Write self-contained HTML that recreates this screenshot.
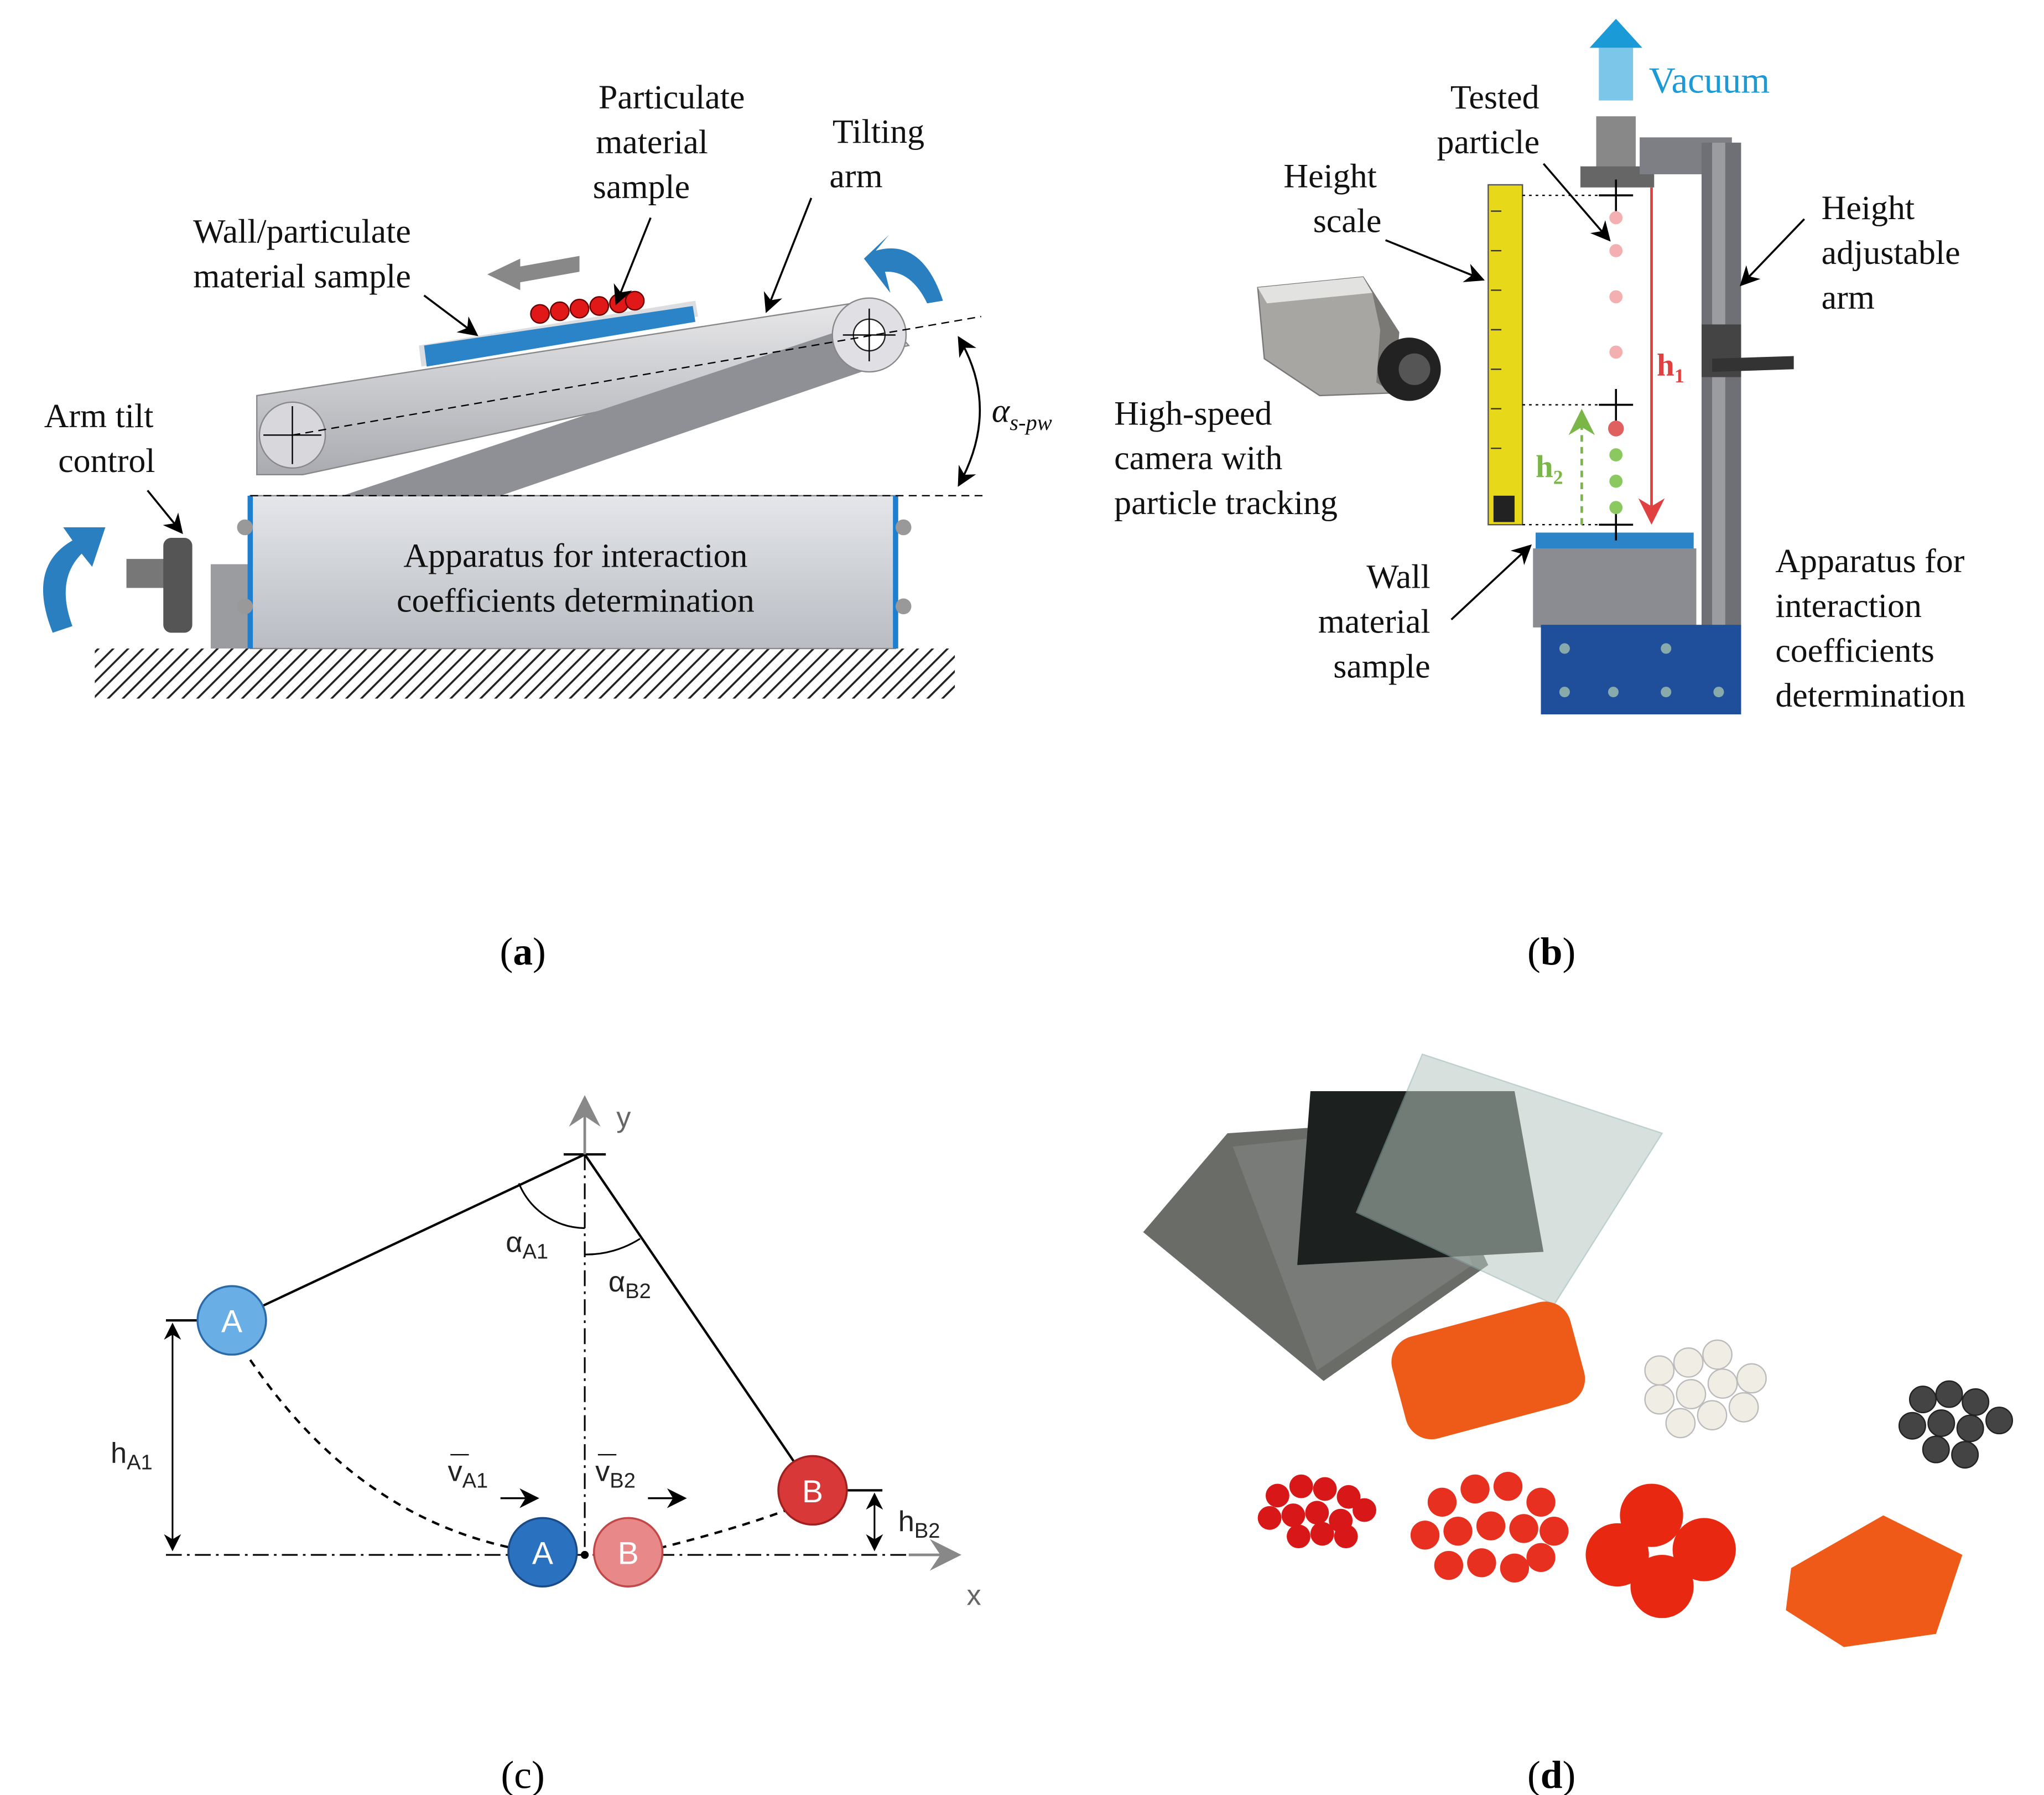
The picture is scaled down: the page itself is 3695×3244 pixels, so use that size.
<!DOCTYPE html>
<html><head><meta charset="utf-8"><style>html,body{margin:0;padding:0;background:#fff}svg{display:block}</style></head>
<body>
<svg width="3695" height="3244" viewBox="0 0 1552 1362" xmlns="http://www.w3.org/2000/svg" font-family="Liberation Serif, serif">
<defs>
<pattern id="hatch" width="8" height="8" patternUnits="userSpaceOnUse" patternTransform="rotate(45)"><rect width="8" height="8" fill="#fff"/><line x1="0" y1="0" x2="0" y2="8" stroke="#222" stroke-width="3"/></pattern>
<linearGradient id="gbox" x1="0" y1="0" x2="0" y2="1"><stop offset="0" stop-color="#e4e6ea"/><stop offset="1" stop-color="#b9bcc2"/></linearGradient>
<linearGradient id="garm" x1="0" y1="0" x2="0" y2="1"><stop offset="0" stop-color="#e8e8ea"/><stop offset="1" stop-color="#a9abb0"/></linearGradient>
<marker id="ak" markerWidth="10" markerHeight="10" refX="9" refY="5" orient="auto-start-reverse"><path d="M0,0 L10,5 L0,10 L3,5z" fill="#000"/></marker>
<marker id="ar" markerWidth="10" markerHeight="10" refX="9" refY="5" orient="auto"><path d="M0,0 L10,5 L0,10 L3,5z" fill="#e04040"/></marker>
<marker id="ag" markerWidth="10" markerHeight="10" refX="9" refY="5" orient="auto"><path d="M0,0 L10,5 L0,10 L3,5z" fill="#7ab648"/></marker>
<marker id="agr" markerWidth="12" markerHeight="12" refX="10" refY="6" orient="auto"><path d="M0,0 L12,6 L0,12 L4,6z" fill="#888"/></marker>
</defs>

<!-- (a) -->
<rect x="72" y="492" width="653" height="38" fill="url(#hatch)"/>
<rect x="160" y="428" width="32" height="64" fill="#9a9ca0"/>
<rect x="96" y="424" width="30" height="22" fill="#777"/>
<rect x="124" y="408" width="22" height="72" rx="6" fill="#555"/>
<path d="M40,480 Q20,430 55,410 L48,400 L80,400 L70,430 L62,420 Q42,440 55,475z" fill="#2a7fc1"/>
<polygon points="195,300 660,228 690,262 230,360 195,360" fill="url(#garm)" stroke="#888"/>
<polygon points="260,376 640,250 660,280 380,376" fill="#8e9096"/>
<circle cx="222" cy="330" r="25" fill="#d8d8dc" stroke="#888"/>
<circle cx="660" cy="254" r="28" fill="#e0e0e4" stroke="#888"/>
<circle cx="660" cy="254" r="12" fill="#fff" stroke="#222"/>
<line x1="640" y1="254" x2="680" y2="254" stroke="#000"/><line x1="660" y1="234" x2="660" y2="274" stroke="#000"/>
<line x1="200" y1="330" x2="244" y2="330" stroke="#000"/><line x1="222" y1="308" x2="222" y2="352" stroke="#000"/>
<polygon points="318,262 528,228 530,240 320,278" fill="#dcdde0"/>
<polygon points="322,262 526,232 528,244 324,278" fill="#2c84c8"/>
<g fill="#e01818" stroke="#600" stroke-width="1"><circle cx="410" cy="238" r="7"/><circle cx="425" cy="236" r="7"/><circle cx="440" cy="234" r="7"/><circle cx="455" cy="232" r="7"/><circle cx="470" cy="230" r="7"/><circle cx="482" cy="228" r="7"/></g>
<polygon points="370,208 395,196 395,202 440,194 440,206 395,214 395,220" fill="#888"/>
<rect x="190" y="376" width="490" height="116" fill="url(#gbox)" stroke="#888"/>
<rect x="188" y="376" width="4" height="116" fill="#1e7fd0"/><rect x="678" y="376" width="4" height="116" fill="#1e7fd0"/>
<circle cx="186" cy="400" r="6" fill="#999"/><circle cx="186" cy="460" r="6" fill="#999"/><circle cx="686" cy="400" r="6" fill="#999"/><circle cx="686" cy="460" r="6" fill="#999"/>
<line x1="222" y1="330" x2="745" y2="240" stroke="#000" stroke-dasharray="6,4"/>
<line x1="190" y1="376" x2="748" y2="376" stroke="#000" stroke-dasharray="6,4"/>
<path d="M728,256 Q760,310 728,368" fill="none" stroke="#000" stroke-width="1.5" marker-start="url(#ak)" marker-end="url(#ak)"/>
<path d="M665,190 Q700,180 716,228 L704,230 Q692,205 672,206 L676,222 L656,196 L675,178z" fill="#2a7fc1"/>
<g font-size="26" fill="#111">
<text x="437" y="430" text-anchor="middle">Apparatus  for interaction</text>
<text x="437" y="464" text-anchor="middle">coefficients determination</text>
<text x="510" y="82" text-anchor="middle">Particulate</text><text x="495" y="116" text-anchor="middle">material</text><text x="487" y="150" text-anchor="middle">sample</text>
<text x="667" y="108" text-anchor="middle">Tilting</text><text x="650" y="142" text-anchor="middle">arm</text>
<text x="312" y="184" text-anchor="end">Wall/particulate</text><text x="312" y="218" text-anchor="end">material sample</text>
<text x="75" y="324" text-anchor="middle">Arm tilt</text><text x="81" y="358" text-anchor="middle">control</text>
<text x="753" y="320" font-style="italic">α<tspan font-size="17" dy="6">s-pw</tspan></text>
</g>
<g stroke="#000" stroke-width="1.5" fill="none" marker-end="url(#ak)">
<line x1="322" y1="224" x2="362" y2="254"/><line x1="494" y1="165" x2="468" y2="230"/><line x1="616" y1="150" x2="582" y2="236"/><line x1="112" y1="372" x2="138" y2="404"/>
</g>

<!-- (b) -->
<g fill="#1a9ad6"><polygon points="1227,14 1247,36 1207,36"/><rect x="1214" y="36" width="26" height="40" fill="#7cc6ea"/></g>
<text x="1252" y="70" font-size="28" fill="#1a9ad6">Vacuum</text>
<rect x="1212" y="88" width="30" height="40" fill="#888"/>
<rect x="1200" y="126" width="56" height="16" fill="#666"/>
<rect x="1245" y="104" width="70" height="28" fill="#7d7f85"/>
<rect x="1292" y="108" width="30" height="432" fill="#6e7076"/>
<rect x="1300" y="108" width="10" height="432" fill="#9a9ca0"/>
<rect x="1292" y="246" width="30" height="40" fill="#444"/>
<polygon points="1300,272 1362,270 1362,280 1300,282" fill="#333"/>
<rect x="1130" y="140" width="26" height="258" fill="#e8d81a" stroke="#555"/>
<g stroke="#333" stroke-width="1"><line x1="1132" y1="160" x2="1140" y2="160"/><line x1="1132" y1="190" x2="1140" y2="190"/><line x1="1132" y1="220" x2="1140" y2="220"/><line x1="1132" y1="250" x2="1140" y2="250"/><line x1="1132" y1="280" x2="1140" y2="280"/><line x1="1132" y1="310" x2="1140" y2="310"/><line x1="1132" y1="340" x2="1140" y2="340"/></g>
<rect x="1134" y="376" width="16" height="20" fill="#222"/>
<rect x="1166" y="404" width="120" height="14" fill="#2c84c8"/>
<rect x="1164" y="416" width="124" height="60" fill="#8a8c92"/>
<rect x="1170" y="474" width="152" height="68" fill="#1f4f9a"/>
<g fill="#8aa"><circle cx="1188" cy="492" r="4"/><circle cx="1265" cy="492" r="4"/><circle cx="1188" cy="525" r="4"/><circle cx="1225" cy="525" r="4"/><circle cx="1265" cy="525" r="4"/><circle cx="1305" cy="525" r="4"/></g>
<g stroke="#000" stroke-dasharray="2,3"><line x1="1156" y1="148" x2="1240" y2="148"/><line x1="1156" y1="307" x2="1240" y2="307"/><line x1="1156" y1="398" x2="1240" y2="398"/></g>
<g stroke="#000" stroke-width="1.5"><line x1="1214" y1="148" x2="1240" y2="148"/><line x1="1227" y1="136" x2="1227" y2="160"/><line x1="1214" y1="307" x2="1240" y2="307"/><line x1="1227" y1="295" x2="1227" y2="319"/><line x1="1214" y1="398" x2="1240" y2="398"/><line x1="1227" y1="386" x2="1227" y2="410"/></g>
<g fill="#f4b0b0"><circle cx="1227" cy="165" r="5"/><circle cx="1227" cy="190" r="5"/><circle cx="1227" cy="225" r="5"/><circle cx="1227" cy="267" r="5"/></g>
<g fill="#e06060"><circle cx="1227" cy="325" r="6"/></g>
<g fill="#8cc860"><circle cx="1227" cy="345" r="5"/><circle cx="1227" cy="365" r="5"/><circle cx="1227" cy="385" r="5"/></g>
<line x1="1254" y1="142" x2="1254" y2="396" stroke="#e04040" stroke-width="2" marker-end="url(#ar)"/>
<line x1="1201" y1="398" x2="1201" y2="312" stroke="#7ab648" stroke-width="2" stroke-dasharray="5,4" marker-end="url(#ag)"/>
<text x="1258" y="285" font-size="24" font-weight="bold" fill="#e04040">h<tspan font-size="15" dy="5">1</tspan></text>
<text x="1166" y="362" font-size="24" font-weight="bold" fill="#7ab648">h<tspan font-size="15" dy="5">2</tspan></text>
<!-- camera -->
<polygon points="955,218 1035,210 1062,252 1058,298 1002,300 960,272" fill="#a8a6a2" stroke="#777"/>
<polygon points="955,218 1035,210 1042,222 962,230" fill="#e2e2e0"/>
<polygon points="1035,210 1062,252 1058,298 1045,290 1048,250 1042,222" fill="#7a7874"/>
<circle cx="1070" cy="280" r="24" fill="#222"/><circle cx="1074" cy="280" r="12" fill="#555"/>
<g font-size="26" fill="#111">
<text x="1135" y="82" text-anchor="middle">Tested</text><text x="1130" y="116" text-anchor="middle">particle</text>
<text x="1010" y="142" text-anchor="middle">Height</text><text x="1023" y="176" text-anchor="middle">scale</text>
<text x="1383" y="166">Height</text><text x="1383" y="200">adjustable</text><text x="1383" y="234">arm</text>
<text x="846" y="322">High-speed</text><text x="846" y="356">camera with</text><text x="846" y="390">particle tracking</text>
<text x="1086" y="446" text-anchor="end">Wall</text><text x="1086" y="480" text-anchor="end">material</text><text x="1086" y="514" text-anchor="end">sample</text>
<text x="1348" y="434">Apparatus for</text><text x="1348" y="468">interaction</text><text x="1348" y="502">coefficients</text><text x="1348" y="536">determination</text>
</g>
<g stroke="#000" stroke-width="1.5" marker-end="url(#ak)"><line x1="1052" y1="182" x2="1126" y2="212"/><line x1="1172" y1="124" x2="1222" y2="182"/><line x1="1370" y1="166" x2="1322" y2="216"/><line x1="1102" y1="470" x2="1162" y2="414"/></g>

<!-- (c) -->
<g stroke="#000" stroke-width="1.8" fill="none">
<line x1="176" y1="1002" x2="444" y2="876"/>
<line x1="444" y1="876" x2="617" y2="1130"/>
<line x1="428" y1="876" x2="460" y2="876"/>
<line x1="444" y1="876" x2="444" y2="1180" stroke-dasharray="12,4,2,4" stroke-width="1.3"/>
<line x1="126" y1="1180" x2="700" y2="1180" stroke-dasharray="12,4,2,4" stroke-width="1.3"/>
<path d="M190,1032 Q270,1150 390,1175" stroke-dasharray="6,5"/>
<path d="M500,1175 Q560,1160 600,1145" stroke-dasharray="6,5"/>
<path d="M394,898 A55,55 0 0 0 444,932" stroke-width="1.3"/>
<path d="M444,952 A76,76 0 0 0 486,940" stroke-width="1.3"/>
<line x1="126" y1="1002" x2="160" y2="1002"/>
<line x1="131" y1="1005" x2="131" y2="1176" marker-start="url(#ak)" marker-end="url(#ak)" stroke-width="1.3"/>
<line x1="640" y1="1131" x2="670" y2="1131"/>
<line x1="664" y1="1134" x2="664" y2="1176" marker-start="url(#ak)" marker-end="url(#ak)" stroke-width="1.3"/>
<line x1="380" y1="1137" x2="408" y2="1137" marker-end="url(#ak)" stroke-width="1.5"/>
<line x1="492" y1="1137" x2="520" y2="1137" marker-end="url(#ak)" stroke-width="1.5"/>
<line x1="342" y1="1104" x2="356" y2="1104" stroke-width="1"/><line x1="454" y1="1104" x2="468" y2="1104" stroke-width="1"/>
</g>
<line x1="444" y1="876" x2="444" y2="835" stroke="#888" stroke-width="2" marker-end="url(#agr)"/>
<line x1="690" y1="1180" x2="726" y2="1180" stroke="#888" stroke-width="2" marker-end="url(#agr)"/>
<circle cx="176" cy="1002" r="26" fill="#6aaee6" stroke="#2a6aa8" stroke-width="1.5"/>
<circle cx="412" cy="1178" r="26" fill="#2a72c0" stroke="#1a4a88" stroke-width="1.5"/>
<circle cx="477" cy="1178" r="26" fill="#e88888" stroke="#c04848" stroke-width="1.5"/>
<circle cx="617" cy="1131" r="26" fill="#d83838" stroke="#a02020" stroke-width="1.5"/>
<circle cx="444" cy="1180" r="3" fill="#000"/>
<g font-size="24" fill="#fff" text-anchor="middle" font-family="Liberation Sans, sans-serif"><text x="176" y="1011">A</text><text x="412" y="1187">A</text><text x="477" y="1187">B</text><text x="617" y="1140">B</text></g>
<g font-size="22" fill="#222" font-family="Liberation Sans, sans-serif">
<text x="468" y="855" fill="#666">y</text><text x="734" y="1218" fill="#666">x</text>
<text x="384" y="950">α<tspan font-size="16" dy="5">A1</tspan></text>
<text x="462" y="980">α<tspan font-size="16" dy="5">B2</tspan></text>
<text x="84" y="1110">h<tspan font-size="16" dy="5">A1</tspan></text>
<text x="682" y="1162">h<tspan font-size="16" dy="5">B2</tspan></text>
<text x="340" y="1124">v<tspan font-size="16" dy="5">A1</tspan></text>
<text x="452" y="1124">v<tspan font-size="16" dy="5">B2</tspan></text>
</g>

<!-- (d) photo approximation -->
<polygon points="932,860 1080,850 1130,960 1005,1048 868,935" fill="#6a6c68"/>
<polygon points="936,870 1080,855 1118,960 1000,1040" fill="#808280" opacity="0.7"/>
<polygon points="995,828 1150,828 1172,950 985,960" fill="#1c201e"/>
<polygon points="1080,800 1262,860 1180,990 1030,920" fill="#b8c8c0" opacity="0.55" stroke="#8aa" />
<g fill="#ee5a18"><rect x="1060" y="1000" width="140" height="80" rx="20" transform="rotate(-15 1130 1040)"/></g>
<g fill="#f0eee4" stroke="#bbb"><circle cx="1260" cy="1040" r="11"/><circle cx="1282" cy="1034" r="11"/><circle cx="1304" cy="1028" r="11"/><circle cx="1260" cy="1062" r="11"/><circle cx="1284" cy="1058" r="11"/><circle cx="1308" cy="1050" r="11"/><circle cx="1330" cy="1046" r="11"/><circle cx="1276" cy="1080" r="11"/><circle cx="1300" cy="1074" r="11"/><circle cx="1324" cy="1068" r="11"/></g>
<g fill="#444" stroke="#222"><circle cx="1460" cy="1062" r="10"/><circle cx="1480" cy="1058" r="10"/><circle cx="1500" cy="1064" r="10"/><circle cx="1452" cy="1082" r="10"/><circle cx="1474" cy="1080" r="10"/><circle cx="1496" cy="1084" r="10"/><circle cx="1518" cy="1078" r="10"/><circle cx="1470" cy="1100" r="10"/><circle cx="1492" cy="1104" r="10"/></g>
<g fill="#d81818"><circle cx="970" cy="1135" r="9"/><circle cx="988" cy="1128" r="9"/><circle cx="1006" cy="1130" r="9"/><circle cx="1024" cy="1136" r="9"/><circle cx="964" cy="1152" r="9"/><circle cx="982" cy="1150" r="9"/><circle cx="1000" cy="1148" r="9"/><circle cx="1018" cy="1154" r="9"/><circle cx="1036" cy="1146" r="9"/><circle cx="986" cy="1166" r="9"/><circle cx="1004" cy="1164" r="9"/><circle cx="1022" cy="1166" r="9"/></g>
<g fill="#e83020"><circle cx="1095" cy="1140" r="11"/><circle cx="1120" cy="1130" r="11"/><circle cx="1145" cy="1128" r="11"/><circle cx="1170" cy="1140" r="11"/><circle cx="1082" cy="1165" r="11"/><circle cx="1107" cy="1162" r="11"/><circle cx="1132" cy="1158" r="11"/><circle cx="1157" cy="1160" r="11"/><circle cx="1180" cy="1162" r="11"/><circle cx="1100" cy="1188" r="11"/><circle cx="1125" cy="1186" r="11"/><circle cx="1150" cy="1190" r="11"/><circle cx="1170" cy="1182" r="11"/></g>
<g fill="#e82810"><circle cx="1254" cy="1150" r="24"/><circle cx="1228" cy="1180" r="24"/><circle cx="1294" cy="1176" r="24"/><circle cx="1262" cy="1204" r="24"/></g>
<polygon points="1360,1190 1430,1150 1490,1180 1470,1240 1400,1250 1356,1222" fill="#f05a18"/>

<!-- captions -->
<g font-size="30" fill="#000" text-anchor="middle">
<text x="397" y="732">(<tspan font-weight="bold">a</tspan>)</text>
<text x="1178" y="732">(<tspan font-weight="bold">b</tspan>)</text>
<text x="397" y="1357">(c)</text>
<text x="1178" y="1357">(<tspan font-weight="bold">d</tspan>)</text>
</g>
</svg>
</body></html>
